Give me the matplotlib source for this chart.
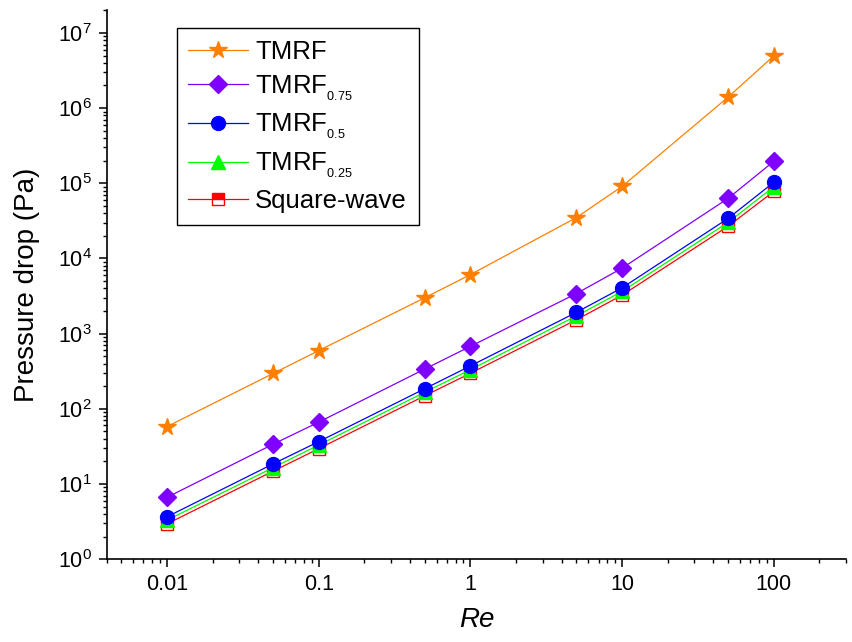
import matplotlib; matplotlib.use("Agg")
import matplotlib.pyplot as plt
from matplotlib.ticker import LogLocator, NullFormatter

plt.rcParams.update({"font.family":"Liberation Sans","mathtext.fontset":"custom",
  "mathtext.rm":"Liberation Sans","mathtext.it":"Liberation Sans:italic",
  "mathtext.bf":"Liberation Sans:bold","mathtext.default":"regular"})

# Re values and pressure drop (Pa)
re = [0.01, 0.05, 0.1, 0.5, 1, 5, 10, 50, 100]
tmrf     = [58, 295, 595, 3000, 6100, 35000, 91000, 1.4e6, 4.95e6]
tmrf_075 = [6.65, 33.8, 66.5, 338, 677, 3415, 7430, 63000, 196000]
tmrf_05  = [3.66, 18.5, 36.6, 185, 372, 1920, 4070, 34100, 103000]
tmrf_025 = [3.3, 16.5, 33, 166, 332, 1720, 3650, 30200, 90000]
square   = [2.95, 14.8, 29.5, 149, 297, 1530, 3250, 26800, 78000]

labels = ["TMRF", "TMRF${}_{_{0.75}}$", "TMRF${}_{_{0.5}}$", "TMRF${}_{_{0.25}}$", "Square-wave"]

fig = plt.figure(figsize=(8.53, 6.42), dpi=100)
ax = fig.add_axes([0.125, 0.129, 0.867, 0.855])

# earlier series sit on top (blue covers green covers red, as in the original)
ax.plot(re, tmrf, color="#FF8000", lw=0.9, marker="*", ms=13, mec="#FF8000", label=labels[0], zorder=6)
ax.plot(re, tmrf_075, color="#8000FF", lw=0.9, marker="D", ms=9, mec="#8000FF", label=labels[1], zorder=5)
ax.plot(re, tmrf_05, color="#0000FF", lw=0.9, marker="o", ms=10, mec="#0000FF", label=labels[2], zorder=4)
ax.plot(re, tmrf_025, color="#00FF00", lw=0.9, marker="^", ms=10, mec="#00FF00", label=labels[3], zorder=3)
ax.plot(re, square, color="#FF0000", lw=0.9, marker="s", ms=8, mec="#FF0000", mew=1,
        fillstyle="top", markerfacecoloralt="white", label=labels[4], zorder=2)

ax.set_xscale("log"); ax.set_yscale("log")
ax.set_xlim(0.004, 300); ax.set_ylim(1, 2e7)
ax.set_xticks([0.01, 0.1, 1, 10, 100]); ax.set_xticklabels(["0.01", "0.1", "1", "10", "100"])
ax.xaxis.set_minor_locator(LogLocator(base=10, subs=range(2, 10), numticks=20))
ax.xaxis.set_minor_formatter(NullFormatter())
ax.yaxis.set_major_locator(LogLocator(base=10, numticks=20))
ax.yaxis.set_minor_locator(LogLocator(base=10, subs=range(2, 10), numticks=20))
ax.yaxis.set_minor_formatter(NullFormatter())

for s in ["top", "right"]: ax.spines[s].set_visible(False)
for s in ["left", "bottom"]: ax.spines[s].set_linewidth(1.2)
ax.tick_params(which="major", direction="out", length=5.5, width=1.1, labelsize=15.5, pad=5)
ax.tick_params(which="minor", direction="out", length=3, width=1)

ax.set_xlabel("Re", fontsize=20, style="italic", labelpad=9)
ax.set_ylabel("Pressure drop (Pa)", fontsize=20, labelpad=13)

leg = ax.legend(loc="upper left", bbox_to_anchor=(0.095, 0.967), borderaxespad=0,
                fontsize=18.5, fancybox=False, edgecolor="black", framealpha=1,
                handlelength=2.3, handletextpad=0.3, labelspacing=0.37, borderpad=0.45)
leg.get_frame().set_linewidth(1)
leg.set_zorder(10)

fig.savefig("out.png", dpi=100)
